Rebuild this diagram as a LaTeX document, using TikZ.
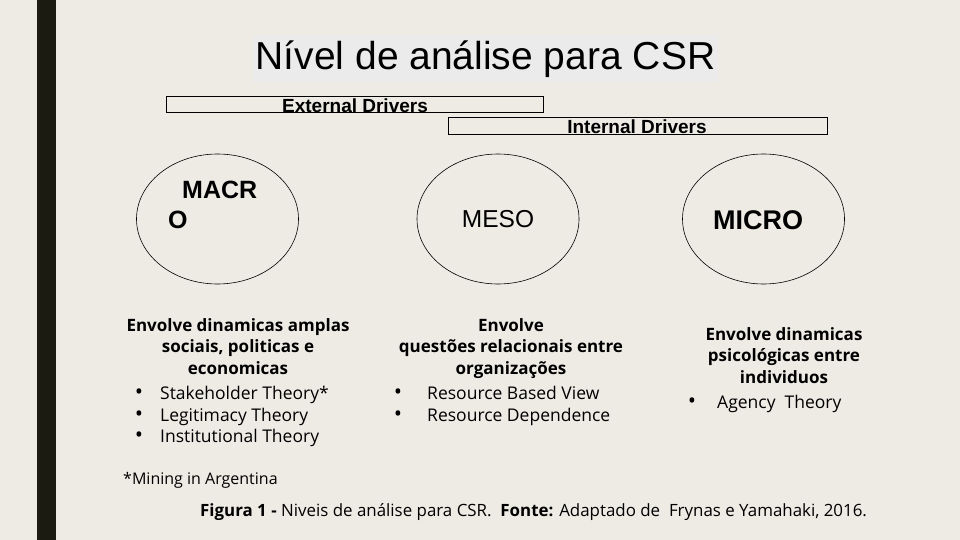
\documentclass[tikz,border=0pt]{standalone}
\usepackage{fontspec}
\setmainfont{Liberation Sans}
\newfontfamily\bodyfont{Open Sans}
\usetikzlibrary{shapes.geometric}
\definecolor{bgc}{HTML}{EEEBE4}
\definecolor{barc}{HTML}{1C1B12}
\definecolor{titlebg}{HTML}{EBEBEB}
\begin{document}
\begin{tikzpicture}[x=1pt,y=-1pt,
  lvl/.style={draw=black,line width=0.6pt,ellipse,minimum width=162pt,minimum height=130pt,inner sep=0pt},
  drv/.style={draw=black,line width=0.8pt,minimum height=16pt,inner sep=0pt},
  drvtxt/.style={font=\fontsize{19}{19}\selectfont\bfseries,inner sep=0pt},
  head/.style={font=\bodyfont\bfseries\fontsize{17}{21.6}\selectfont,align=center,inner sep=0pt},
  item/.style={font=\bodyfont\fontsize{17.5}{21.6}\selectfont,anchor=base west,inner sep=0pt},
  bul/.style={font=\bodyfont\fontsize{22}{22}\selectfont,anchor=base,inner sep=0pt},
  foot/.style={font=\bodyfont\fontsize{16}{16}\selectfont,inner sep=0pt,anchor=west}]
\fill[bgc] (0,0) rectangle (960,540);
\useasboundingbox (0,0) rectangle (960,540);
\fill[barc] (37,0) rectangle (56,540);
% title
\fill[titlebg] (253,35) rectangle (718,82);
\node[inner sep=0pt,font=\fontsize{39}{39}\selectfont] (title) at (485.5,59) {Nível de análise para CSR};
% drivers
\node[drv,minimum width=377pt] (extbox) at (354.5,104) {};
\node[drvtxt] (ext) at (355,106) {External Drivers};
\node[drv,minimum width=379pt,minimum height=17pt] (intbox) at (637.5,125.5) {};
\node[drvtxt] (int) at (637,127) {Internal Drivers};
% ellipses
\node[lvl] (macro) at (217.5,219) {};
\node[lvl] (meso) at (498,219) {};
\node[lvl] (micro) at (763.5,219) {};
\node[font=\fontsize{25}{30}\selectfont\bfseries,align=left,anchor=north west,inner sep=0pt] (macrot) at (168,181) {\hspace{14pt}MACR\\O};
\node[font=\fontsize{24.5}{24.5}\selectfont,inner sep=0pt] (mesot) at (498,219) {MESO};
\node[font=\fontsize{27}{27}\selectfont\bfseries,inner sep=0pt] (microt) at (758,220) {MICRO};
% left block
\node[head,anchor=north] (lhead) at (238,318) {Envolve dinamicas amplas\\sociais, politicas e\\economicas};
\node[bul] (lb1) at (139,399) {•};
\node[item] (li1) at (160,399) {Stakeholder Theory*};
\node[bul] (lb2) at (139,421) {•};
\node[item] (li2) at (160,421) {Legitimacy Theory};
\node[bul] (lb3) at (139,442) {•};
\node[item] (li3) at (160,442) {Institutional Theory};
% middle block
\node[head,anchor=north] (mhead) at (511,318) {Envolve\\questões relacionais entre\\organizações};
\node[bul] (mb1) at (398,399) {•};
\node[item] (mi1) at (427,399) {Resource Based View};
\node[bul] (mb2) at (398,421) {•};
\node[item] (mi2) at (427,421) {Resource Dependence};
% right block
\node[head,anchor=north] (rhead) at (784,327) {Envolve dinamicas\\psicológicas entre\\individuos};
\node[bul] (rb1) at (692,408) {•};
\node[item] (ri1) at (717,408) {Agency\ \ Theory};
% footer
\node[foot] (note) at (123,480) {*Mining in Argentina};
\node[foot,font=\bodyfont\fontsize{16.9}{17}\selectfont] (cap) at (200,512) {\textbf{Figura 1 -} Niveis de análise para CSR.\ \ \textbf{Fonte:} Adaptado de\ \ Frynas e Yamahaki, 2016.};
\end{tikzpicture}
\end{document}
